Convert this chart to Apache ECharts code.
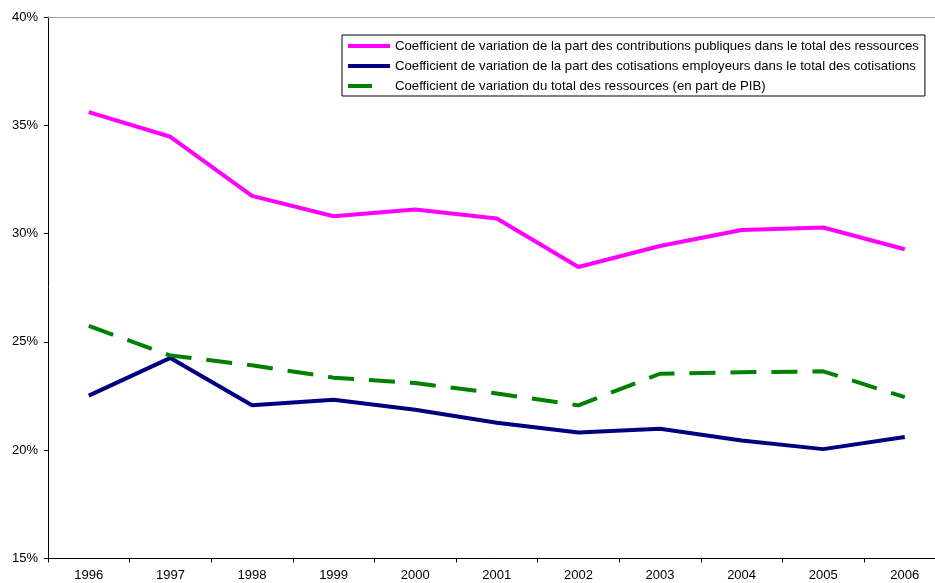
<!DOCTYPE html>
<html>
<head>
<meta charset="utf-8">
<script src="https://cdn.jsdelivr.net/npm/echarts@6/dist/echarts.min.js"></script>
<style>
html,body{margin:0;padding:0;background:#fff;}
#chart{width:935px;height:583px;}
</style>
</head>
<body>
<div id="chart"></div>
<script>
const years = ['1996','1997','1998','1999','2000','2001','2002','2003','2004','2005','2006'];
const publiques = [35.61, 34.47, 31.74, 30.80, 31.11, 30.70, 28.46, 29.43, 30.17, 30.28, 29.28];
const employeurs = [22.52, 24.26, 22.08, 22.33, 21.87, 21.27, 20.82, 20.99, 20.45, 20.05, 20.61];
const totalRessources = [25.74, 24.37, 23.92, 23.35, 23.10, 22.62, 22.07, 23.53, 23.60, 23.64, 22.45];
const seriesNames = [
  'Coefficient de variation de la part des contributions publiques dans le total des ressources',
  'Coefficient de variation de la part des cotisations employeurs dans le total des cotisations',
  'Coefficient de variation du total des ressources (en part de PIB)'
];
const yTicks = [15, 20, 25, 30, 35, 40];

const chart = echarts.init(document.getElementById('chart'));
const font = 'Liberation Sans, Arial, sans-serif';
chart.setOption({
  animation: false,
  backgroundColor: '#ffffff',
  textStyle: { fontFamily: font },
  grid: { left: 48, top: 17, width: 897.6, height: 541.5, containLabel: false, outerBoundsMode: 'none' },
  legend: {
    orient: 'vertical',
    left: 342,
    top: 35,
    backgroundColor: '#ffffff',
    borderColor: '#000000',
    borderWidth: 1,
    borderRadius: 0,
    padding: [4, 6, 3, 4],
    itemGap: 6,
    itemWidth: 42,
    itemHeight: 14,
    selectedMode: false,
    itemStyle: { opacity: 0 },
    lineStyle: { width: 4 },
    textStyle: { fontFamily: font, fontSize: 13.2, color: '#000', lineHeight: 14 },
    data: [
      { name: seriesNames[0] },
      { name: seriesNames[1] },
      { name: seriesNames[2], lineStyle: { width: 4, type: [24, 40] } }
    ]
  },
  xAxis: [{
    type: 'category',
    data: years,
    boundaryGap: true,
    axisLine: { lineStyle: { color: '#000', width: 1 } },
    axisTick: { show: true, alignWithLabel: false, length: 4, lineStyle: { color: '#000' } },
    axisLabel: { color: '#000', fontSize: 13, margin: 10, fontFamily: font },
    splitLine: { show: false }
  }, {
    type: 'category',
    data: years,
    position: 'top',
    axisLine: { lineStyle: { color: '#a0a0a0', width: 1 } },
    axisTick: { show: false },
    axisLabel: { show: false },
    splitLine: { show: false }
  }],
  yAxis: {
    type: 'value',
    min: yTicks[0],
    max: yTicks[yTicks.length - 1],
    interval: 5,
    axisLine: { show: true, lineStyle: { color: '#000', width: 1 } },
    axisTick: { show: true, length: 4, lineStyle: { color: '#000' } },
    axisLabel: { color: '#000', fontSize: 13, margin: 10, fontFamily: font, formatter: v => v + '%' },
    splitLine: { show: false }
  },
  series: [
    {
      name: seriesNames[0], type: 'line', data: publiques, symbol: 'none',
      lineStyle: { color: '#FF00FF', width: 4 }, itemStyle: { color: '#FF00FF' },
      emphasis: { disabled: true }
    },
    {
      name: seriesNames[1], type: 'line', data: employeurs, symbol: 'none',
      lineStyle: { color: '#000080', width: 4 }, itemStyle: { color: '#000080' },
      emphasis: { disabled: true }
    },
    {
      name: seriesNames[2], type: 'line', data: totalRessources, symbol: 'none',
      lineStyle: { color: '#008000', width: 4, type: [26, 15] }, itemStyle: { color: '#008000' },
      emphasis: { disabled: true }
    }
  ]
});
</script>
</body>
</html>
